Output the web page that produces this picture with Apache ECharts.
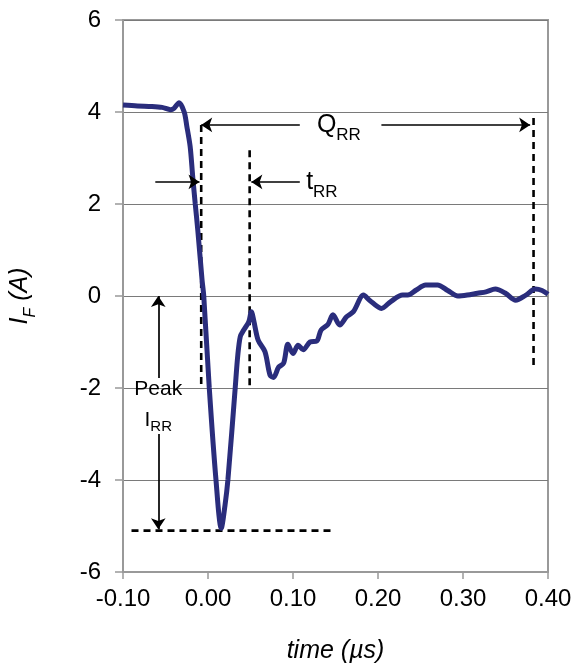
<!DOCTYPE html>
<html><head><meta charset="utf-8">
<script src="https://cdn.jsdelivr.net/npm/echarts@6/dist/echarts.min.js"></script>
<style>html,body{margin:0;padding:0;background:#fff}#c{width:577px;height:671px}</style>
</head><body><div id="c"></div>
<script>
// Reverse-recovery current waveform (time in µs, current in A)
const timeUs = [-0.100,-0.083,-0.066,-0.054,-0.044,-0.040,-0.034,-0.028,-0.025,-0.021,-0.018,-0.015,-0.012,-0.007,-0.005,0.0015,0.0094,0.0156,0.020,0.0234,0.032,0.035,0.038,0.042,0.048,0.051,0.054,0.059,0.067,0.073,0.077,0.083,0.089,0.094,0.100,0.106,0.112,0.120,0.128,0.133,0.141,0.147,0.155,0.163,0.171,0.183,0.190,0.204,0.215,0.229,0.235,0.245,0.256,0.270,0.282,0.294,0.305,0.317,0.327,0.338,0.350,0.362,0.374,0.385,0.393,0.400];
const currentA = [4.15,4.13,4.12,4.10,4.05,4.08,4.20,4.00,3.70,3.25,2.60,2.00,1.43,0.35,0.00,-2.00,-4.00,-5.05,-4.55,-4.00,-2.00,-1.30,-0.88,-0.74,-0.56,-0.34,-0.55,-0.96,-1.21,-1.72,-1.77,-1.55,-1.46,-1.05,-1.25,-1.07,-1.17,-1.00,-0.98,-0.74,-0.62,-0.41,-0.63,-0.45,-0.34,0.02,-0.09,-0.27,-0.12,0.02,0.02,0.13,0.24,0.24,0.12,0.00,0.02,0.06,0.09,0.15,0.06,-0.09,0.02,0.15,0.12,0.04];
const xTicks = [-0.10,0.00,0.10,0.20,0.30,0.40];
const yTicks = [-6,-4,-2,0,2,4,6];

// Annotation geometry (data units)
const dashedV = [
  [[-0.008,3.72],[-0.008,-1.95]],
  [[0.049,3.17],[0.049,-2.04]],
  [[0.383,3.87],[0.383,-1.60]]
];
const dashedPeak = [[-0.090,-5.10],[0.145,-5.10]];
const arrows = [
  [[0.108,3.72],[-0.008,3.72]],   // QRR left
  [[0.204,3.72],[0.379,3.72]],    // QRR right
  [[-0.062,2.48],[-0.010,2.48]],  // tRR from left
  [[0.108,2.48],[0.051,2.48]],    // tRR from right
  [[-0.0585,-1.78],[-0.0585,0.0]],// peak up
  [[-0.0585,-3.00],[-0.0585,-5.07]] // peak down
];
const labels = [
  {name:'Q', sub:'RR', x:0.154, y:3.64, big:true},
  {name:'t', sub:'RR', x:0.134, y:2.40, big:true},
  {name:'Peak', sub:'', x:-0.0585, y:-2.08, big:false},
  {name:'I', sub:'RR', x:-0.0585, y:-2.74, big:false}
];

const FONT = "'Liberation Sans', Arial, sans-serif";
const chart = echarts.init(document.getElementById('c'), null, {renderer:'canvas'});

const dashedSeries = dashedV.concat([dashedPeak]).map(seg => ({
  type:'line', data: seg, symbol:'none', silent:true, z:4,
  lineStyle:{color:'#000', width:2.6, type:[7,5]}
}));

const option = {
  animation:false,
  backgroundColor:'#fff',
  grid:{left:120, right:29, top:20, bottom:99, show:true, borderColor:'#999', borderWidth:2, backgroundColor:'transparent'},
  xAxis:{
    type:'value', min:xTicks[0], max:xTicks[xTicks.length-1], interval:0.1,
    name:'time (µs)', nameLocation:'middle', nameGap:67,
    nameTextStyle:{fontFamily:FONT, fontSize:25, fontStyle:'italic', color:'#000'},
    axisLine:{show:true, onZero:false, lineStyle:{color:'#999', width:2}},
    axisTick:{show:true, length:7, lineStyle:{color:'#999', width:1.5}},
    axisLabel:{fontFamily:FONT, fontSize:24, color:'#000', margin:15, formatter:v=>v.toFixed(2)},
    splitLine:{show:false}
  },
  yAxis:{
    type:'value', min:yTicks[0], max:yTicks[yTicks.length-1], interval:2,
    name:'{i|I}{s|F}{i| (A)}', nameLocation:'middle', nameGap:84,
    nameTextStyle:{fontFamily:FONT, fontSize:25, fontStyle:'italic', color:'#000',
      rich:{
        i:{fontFamily:FONT, fontSize:25, fontStyle:'italic', color:'#000', lineHeight:31, verticalAlign:'top'},
        s:{fontFamily:FONT, fontSize:16, fontStyle:'italic', color:'#000', lineHeight:31, verticalAlign:'bottom'}
      }},
    axisLine:{show:true, onZero:false, lineStyle:{color:'#999', width:2}},
    axisTick:{show:true, length:8, lineStyle:{color:'#999', width:1.5}},
    axisLabel:{fontFamily:FONT, fontSize:24, color:'#000', margin:22},
    splitLine:{show:true, lineStyle:{color:'#7a7a7a', width:1}}
  },
  series:[
    {
      type:'line', data: timeUs.map((t,i)=>[t,currentA[i]]), symbol:'none', smooth:0.3, z:5,
      lineStyle:{color:'#2a2d7c', width:5}
    },
    ...dashedSeries,
    {
      type:'lines', coordinateSystem:'cartesian2d', z:6, silent:true,
      symbol:['none','arrow'], symbolSize:[9,11],
      lineStyle:{color:'#000', width:1.7, opacity:1, curveness:0},
      data: arrows.map(a=>({coords:a}))
    },
    {
      type:'scatter', symbolSize:0, z:7, silent:true,
      itemStyle:{color:'#000'},
      data: labels.map(l=>({value:[l.x,l.y]})),
      label:{
        show:true, position:'inside', color:'#000', opacity:1,
        formatter: p => {
          const l = labels[p.dataIndex];
          const a = l.big ? 'b' : 'm';
          const s = l.big ? 's' : 'r';
          return '{'+a+'|'+l.name+'}' + (l.sub ? '{'+s+'|'+l.sub+'}' : '');
        },
        rich:{
          b:{fontFamily:FONT, fontSize:25, color:'#000', lineHeight:31, verticalAlign:'top'},
          s:{fontFamily:FONT, fontSize:17, color:'#000', lineHeight:31, verticalAlign:'bottom'},
          m:{fontFamily:FONT, fontSize:21, color:'#000', lineHeight:25, verticalAlign:'top'},
          r:{fontFamily:FONT, fontSize:15, color:'#000', lineHeight:25, verticalAlign:'bottom'}
        }
      }
    }
  ]
};
chart.setOption(option);
</script></body></html>
